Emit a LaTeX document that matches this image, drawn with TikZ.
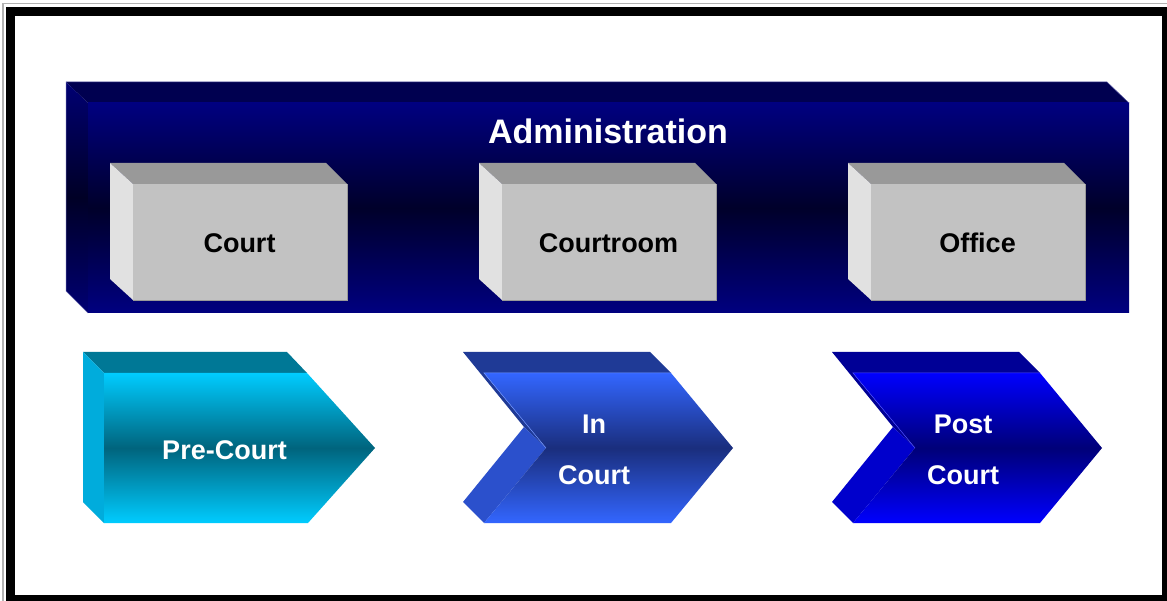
\documentclass[tikz,border=0pt]{standalone}
\usepackage{fontspec}
\setmainfont{Liberation Sans}
\definecolor{adminTop}{RGB}{0,0,80}
\definecolor{adminNavy}{RGB}{0,0,128}
\definecolor{adminDark}{RGB}{0,0,42}
\definecolor{adminSideTop}{RGB}{0,0,115}
\definecolor{adminSideDark}{RGB}{0,0,38}
\definecolor{boxFront}{RGB}{194,194,194}
\definecolor{boxTop}{RGB}{153,153,153}
\definecolor{boxSide}{RGB}{225,225,225}
\definecolor{preTop}{RGB}{0,120,150}
\definecolor{preSide}{RGB}{0,172,220}
\definecolor{preLight}{RGB}{0,204,255}
\definecolor{preDark}{RGB}{0,100,125}
\definecolor{inTop}{RGB}{31,58,150}
\definecolor{inSide}{RGB}{43,80,204}
\definecolor{inLight}{RGB}{51,102,255}
\definecolor{inDark}{RGB}{26,46,125}
\definecolor{postTop}{RGB}{0,0,150}
\definecolor{postSide}{RGB}{0,0,204}
\definecolor{postLight}{RGB}{0,0,255}
\definecolor{postDark}{RGB}{0,0,120}
\tikzset{
  lbl/.style={font=\fontsize{27}{31}\selectfont\bfseries, inner sep=0pt, anchor=base},
  biglbl/.style={font=\fontsize{34}{39}\selectfont\bfseries, inner sep=0pt, anchor=base, text=white},
  band/.style 2 args={top color=#1, bottom color=#1, middle color=#2}
}
\begin{document}
\begin{tikzpicture}[x=1pt,y=-1pt]
\useasboundingbox (0,0) rectangle (1167,601);
\fill[white] (0,0) rectangle (1167,601);
\begin{scope}
  \clip (0,0) rectangle (1167,601);
  \draw[line width=9pt] (10.5,11.5) rectangle (1166.5,599.5);
  \draw[gray!60, line width=1.2pt] (3,3.5) rectangle (1185,620);
\end{scope}

% Administration block
\fill[adminTop] (66,82) -- (1107,82) -- (1129,103) -- (88,103) -- cycle;
\shade[band={adminSideTop}{adminSideDark}]
  (66,82) -- (88,103) -- (88,313) -- (66,291) -- cycle;
\shade[band={adminNavy}{adminDark}]
  (88,103) rectangle (1129,313);
\draw[blue!30!gray, line width=0.5pt] (88,313) -- (66,291) -- (66,82) -- (1107,82) -- (1129,103);
\node[biglbl] (admin) at (608,143.3) {Administration};

% Grey boxes
\foreach \dx/\nm/\txt in {0/court/Court, 369/courtroom/Courtroom, 738/office/Office}{
  \fill[boxTop] (110+\dx,163) -- (326+\dx,163) -- (347+\dx,184) -- (133+\dx,184) -- cycle;
  \fill[boxSide] (110+\dx,163) -- (133+\dx,184) -- (133+\dx,300) -- (110+\dx,279) -- cycle;
  \fill[boxFront] (133+\dx,184) rectangle (347+\dx,300);
  \draw[gray!80, line width=0.5pt] (133+\dx,300) -- (347+\dx,300) -- (347+\dx,184);
  \node[lbl] (\nm) at (239.5+\dx,252.7) {\txt};
}

% Pre-Court
\fill[preTop] (83,352) -- (287,352) -- (307,373) -- (104,373) -- cycle;
\fill[preSide] (83,352) -- (104,373) -- (104,523) -- (83,502) -- cycle;
\shade[band={preLight}{preDark}]
  (104,373) -- (307,373) -- (375,448) -- (308,523) -- (104,523) -- cycle;
\node[lbl, text=white] (pre) at (224.5,459.3) {Pre-Court};

% In Court and Post Court
\foreach \dx/\c/\nma/\nmb/\ta in {0/in/inA/inB/In, 369/post/postA/postB/Post}{
  \fill[\c Top] (463+\dx,352) -- (650+\dx,352) -- (671+\dx,373) -- (484+\dx,373)
     -- (546+\dx,448) -- (524+\dx,427) -- cycle;
  \fill[\c Side] (524+\dx,427) -- (546+\dx,448) -- (484+\dx,523) -- (463+\dx,502) -- cycle;
  \shade[band={\c Light}{\c Dark}]
    (484+\dx,373) -- (671+\dx,373) -- (733+\dx,448) -- (671+\dx,523)
    -- (484+\dx,523) -- (546+\dx,448) -- cycle;
  \draw[\c Light!70!white, line width=0.5pt] (546+\dx,448) -- (484+\dx,373) -- (671+\dx,373);
  \node[lbl, text=white] (\nma) at (594+\dx,433.3) {\ta};
  \node[lbl, text=white] (\nmb) at (594+\dx,484) {Court};
}
\end{tikzpicture}
\end{document}
